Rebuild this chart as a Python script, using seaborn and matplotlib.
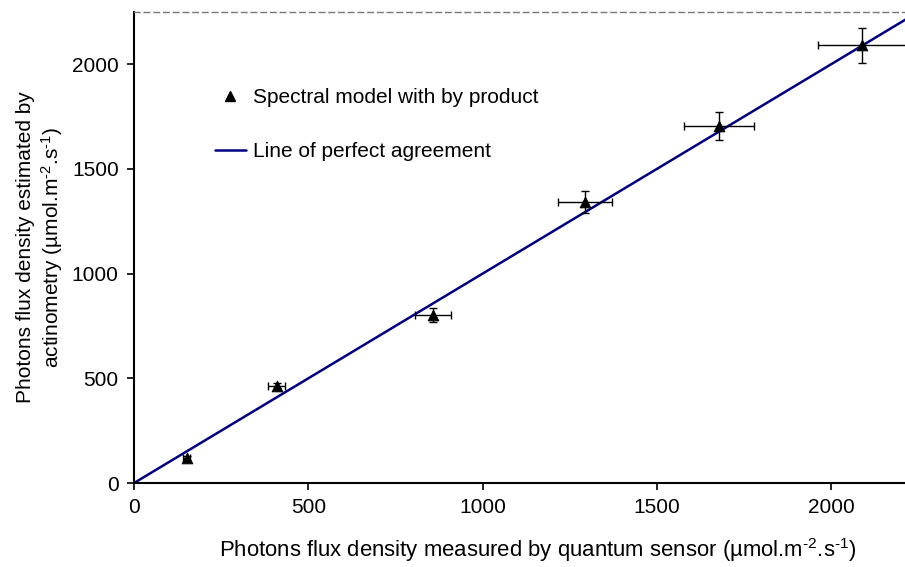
import numpy as np
import pandas as pd
import seaborn as sns
import matplotlib.pyplot as plt
from matplotlib.lines import Line2D

# measured (quantum sensor) vs estimated (actinometry)
measured = [152, 409, 857, 1294, 1679, 2089]
measured_err = [10, 25, 52, 78, 101, 126]
estimated = [119, 463, 802, 1343, 1704, 2091]
estimated_err = [12, 15, 33, 52, 68, 84]
agreement = [0, 2250]

df = pd.DataFrame({"measured": measured, "estimated": estimated})

sns.set_style("ticks")
plt.rcParams['font.family'] = ['Liberation Sans', 'DejaVu Sans']
plt.rcParams['mathtext.fontset'] = 'custom'
plt.rcParams['mathtext.rm'] = 'Liberation Sans'
plt.rcParams['mathtext.it'] = 'Liberation Sans'
plt.rcParams['text.color'] = 'black'
plt.rcParams['axes.labelcolor'] = 'black'

fs = 15
fig = plt.figure(figsize=(9.05, 5.67), dpi=100)
ax = fig.add_axes([0.148, 0.148, 0.852, 0.831])

sns.lineplot(x=agreement, y=agreement, color="#000080", lw=1.8, ax=ax)
ax.errorbar(measured, estimated, xerr=measured_err, yerr=estimated_err,
            fmt="none", ecolor="black", elinewidth=1, capsize=3, capthick=1)
sns.scatterplot(data=df, x="measured", y="estimated", marker="^", color="black",
                s=60, edgecolor="black", ax=ax, zorder=5)

ax.set_xlim(0, 2212)
ax.set_ylim(0, 2250)
ax.set_xticks([0, 500, 1000, 1500, 2000])
ax.set_yticks([0, 500, 1000, 1500, 2000])
ax.tick_params(direction="out", length=5, width=1.2, labelsize=fs, colors="black", pad=6)

for s in ["left", "bottom"]:
    ax.spines[s].set_linewidth(1.5)
    ax.spines[s].set_color("black")
ax.spines["right"].set_visible(False)
ax.spines["top"].set_linestyle((0, (4, 3)))
ax.spines["top"].set_color("#777777")
ax.spines["top"].set_linewidth(1)

unit = r"(µmol.m$^{\text{-2}}$.s$^{\text{-1}}$)"
ax.set_xlabel("Photons flux density measured by quantum sensor " + unit,
              fontsize=15.9, labelpad=14)
ax.xaxis.set_label_coords(0.524, -0.113)
ax.set_ylabel("Photons flux density estimated by\nactinometry " + unit,
              fontsize=fs, labelpad=5)

handles = [Line2D([], [], marker="^", color="black", ls="none", markersize=7),
           Line2D([], [], color="#000080", lw=1.8)]
ax.legend(handles, ["Spectral model with by product", "Line of perfect agreement"],
          loc="upper left", bbox_to_anchor=(0.092, 0.861), frameon=False, borderpad=0,
          fontsize=fs, labelspacing=1.7, handlelength=1.45, handletextpad=0.35)

fig.savefig("out.png", dpi=100)
